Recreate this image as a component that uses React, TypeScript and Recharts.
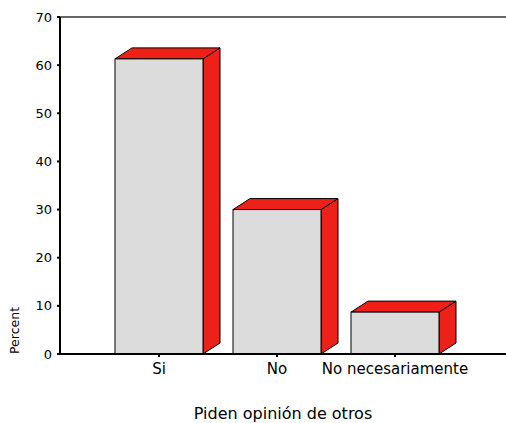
import React from "react";
import { BarChart, Bar, XAxis, YAxis, ReferenceLine, Label } from "recharts";

const categories = ["Si", "No", "No necesariamente"];
const percents = [61.3, 30.0, 8.7];
const yTicks = [0, 10, 20, 30, 40, 50, 60, 70];

const data = categories.map((c, i) => ({ name: c, value: percents[i] }));

const FONT = "DejaVu Sans";
const RED = "#ee2118";
const DX = 17;
const DY = -11;

const Bar3D = (props: any) => {
  const { x, y, width, height } = props;
  const w = width;
  const h = height;
  const top = `${x},${y} ${x + DX},${y + DY} ${x + w + DX},${y + DY} ${x + w},${y}`;
  const side = `${x + w},${y} ${x + w + DX},${y + DY} ${x + w + DX},${y + h + DY} ${x + w},${y + h}`;
  return (
    <g>
      <polygon points={side} fill={RED} stroke="#000" strokeWidth={1} strokeLinejoin="round" />
      <polygon points={top} fill={RED} stroke="#000" strokeWidth={1} strokeLinejoin="round" />
      <rect x={x} y={y} width={w} height={h} fill="#dcdcdc" stroke="#000" strokeWidth={1} />
    </g>
  );
};

export default function App() {
  return (
    <div style={{ width: 506, height: 423 }}>
      <style>{"body{margin:0}"}</style>
      <BarChart
        width={506}
        height={423}
        data={data}
        margin={{ top: 17, right: 0, left: 10, bottom: 0 }}
      >
        <ReferenceLine y={70} stroke="#666" strokeWidth={2} ifOverflow="visible" />
        <XAxis
          dataKey="name"
          height={69}
          padding={{ left: 40, right: 52 }}
          axisLine={{ stroke: "#000", strokeWidth: 2 }}
          tickLine={{ stroke: "#000", strokeWidth: 2 }}
          tickSize={3}
          tickMargin={6}
          tick={{ fill: "#000", fontSize: 15, fontFamily: FONT }}
          interval={0}
        >
          <Label
            value="Piden opinión de otros"
            position="insideBottom"
            offset={4}
            style={{ fill: "#000", fontSize: 16, fontFamily: FONT }}
          />
        </XAxis>
        <YAxis
          width={50}
          domain={[0, 70]}
          ticks={yTicks}
          interval={0}
          axisLine={{ stroke: "#000", strokeWidth: 2 }}
          tickLine={{ stroke: "#000", strokeWidth: 2 }}
          tickSize={3}
          tickMargin={5}
          tick={{ fill: "#000", fontSize: 13, fontFamily: FONT }}
        >
          <Label
            content={(p: any) => {
              const vb = p.viewBox || {};
              const bottom = (vb.y || 0) + (vb.height || 0);
              return (
                <text
                  x={19}
                  y={bottom}
                  transform={`rotate(-90 19 ${bottom})`}
                  textAnchor="start"
                  style={{ fill: "#000", fontSize: 12.5, fontFamily: FONT }}
                >
                  Percent
                </text>
              );
            }}
          />
        </YAxis>
        <Bar dataKey="value" barSize={88} shape={<Bar3D />} isAnimationActive={false} />
      </BarChart>
    </div>
  );
}
